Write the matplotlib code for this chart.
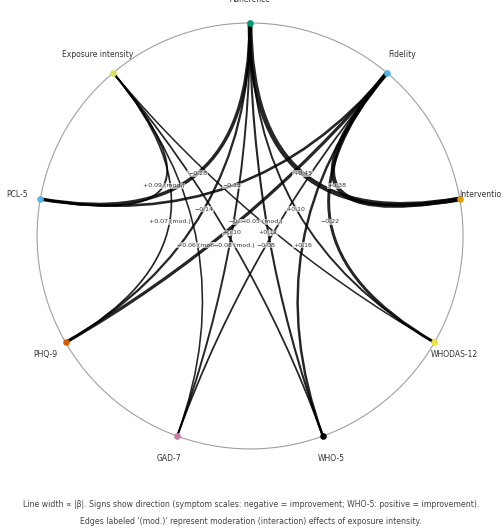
import numpy as np
import matplotlib.pyplot as plt
from matplotlib.path import Path
from matplotlib.patches import PathPatch, Circle

# ------------------------------------------------------------
# Nodes (clockwise from the top) and their colours
# ------------------------------------------------------------
nodes = ["Adherence", "Fidelity", "Intervention", "WHODAS-12", "WHO-5",
         "GAD-7", "PHQ-9", "PCL-5", "Exposure intensity"]
node_colors = ["#009E73", "#56B4E9", "#E69F00", "#F0E442", "#000000",
               "#CC79A7", "#D55E00", "#56B4E9", "#D8E35A"]

# ------------------------------------------------------------
# Edges: source, target, standardised beta, moderation flag
# ------------------------------------------------------------
src = ["Adherence", "Fidelity",
       "Adherence", "Adherence", "Adherence", "Adherence", "Adherence",
       "Fidelity", "Fidelity", "Fidelity", "Fidelity", "Fidelity",
       "Exposure intensity", "Exposure intensity", "Exposure intensity",
       "Exposure intensity", "Exposure intensity"]
dst = ["Intervention", "Intervention",
       "PCL-5", "PHQ-9", "GAD-7", "WHO-5", "WHODAS-12",
       "PCL-5", "PHQ-9", "GAD-7", "WHO-5", "WHODAS-12",
       "PCL-5", "PHQ-9", "GAD-7", "WHO-5", "WHODAS-12"]
beta = [0.45, 0.38,
        -0.28, -0.14, -0.10, 0.12, 0.10,
        -0.18, -0.25, -0.08, 0.16, -0.22,
        0.09, 0.07, -0.06, -0.08, -0.05]
moderation = [False, False,
              False, False, False, False, False,
              False, False, False, False, False,
              True, True, True, True, True]

# ------------------------------------------------------------
# Layout
# ------------------------------------------------------------
n = len(nodes)
angles = np.deg2rad(90 - 360 / n * np.arange(n))
pos = {name: (np.cos(a), np.sin(a)) for name, a in zip(nodes, angles)}

fig = plt.figure(figsize=(5.02, 5.32), dpi=100)
ax = fig.add_axes([0, 0, 1, 1])
ax.set_xlim(-1.174, 1.183)
ax.set_ylim(-1.390, 1.108)
ax.axis("off")

ax.add_patch(Circle((0, 0), 1.0, fill=False, ec="#a0a0a0", lw=0.8, zorder=1))

for s, d, b, mod in zip(src, dst, beta, moderation):
    p0 = np.array(pos[s])
    p2 = np.array(pos[d])
    ctrl = np.array([0.0, 0.0])
    path = Path([p0, ctrl, p2], [Path.MOVETO, Path.CURVE3, Path.CURVE3])
    ax.add_patch(PathPatch(path, fc="none", ec="black", lw=0.8 + 6 * abs(b),
                           alpha=0.85, capstyle="round", zorder=2))
    mid = 0.25 * p0 + 0.5 * ctrl + 0.25 * p2
    txt = f"{b:+.2f}".replace("-", "\u2212")
    if mod:
        txt += " (mod.)"
    ax.text(mid[0], mid[1], txt, fontsize=4.5, color="#333333",
            ha="center", va="center", zorder=4,
            bbox=dict(boxstyle="square,pad=0.1", fc="white", ec="none", alpha=0.6))

for name, c in zip(nodes, node_colors):
    x, y = pos[name]
    ax.scatter(x, y, s=14, color=c, zorder=5)
    ax.text(1.11 * x, 1.11 * y, name, fontsize=5.5, color="#333333",
            ha="center", va="center", zorder=5)

fig.text(0.5, 0.051,
         "Line width \u221d |\u03b2|. Signs show direction (symptom scales: negative = improvement; "
         "WHO-5: positive = improvement).",
         ha="center", va="center", fontsize=5.6, color="#444444")
fig.text(0.5, 0.019,
         "Edges labeled '(mod.)' represent moderation (interaction) effects of exposure intensity.",
         ha="center", va="center", fontsize=5.6, color="#444444")

fig.savefig("out.png", dpi=100)
